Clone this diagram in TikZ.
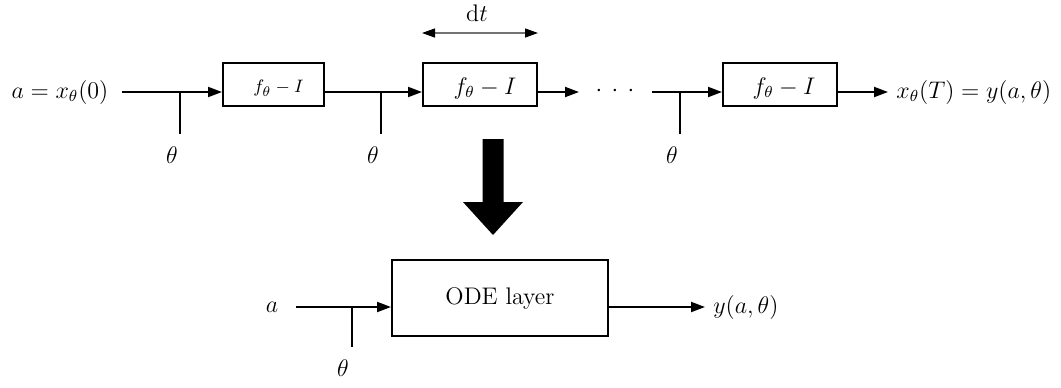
\documentclass[tikz,border=0pt]{standalone}
\usetikzlibrary{arrows.meta}
\begin{document}
\begin{tikzpicture}[x=0.5pt,y=-0.5pt,
  every node/.style={font=\fontsize{12}{14.4}\selectfont, inner sep=4pt},
  wire/.style={line width=1pt},
  arr/.style={wire, -{Triangle[length=7pt,width=5pt]}},
  dtarr/.style={line width=0.65pt, draw=black!55, {Triangle[length=6.5pt,width=4.5pt,color=black]}-{Triangle[length=6.5pt,width=4.5pt,color=black]}},
  fbox/.style={draw, line width=1pt, minimum height=21.5pt, inner sep=0pt},
  smallbox/.style={fbox, minimum width=50.5pt, font=\fontsize{9.4}{11}\selectfont, text height=8.2pt, text depth=0pt},
  bigbox/.style={fbox, minimum width=57pt, text height=9.5pt, text depth=0pt},
  odebox/.style={draw, line width=1pt, minimum width=108pt, minimum height=38pt, inner sep=0pt}
]
\useasboundingbox (0,0) rectangle (1061,387);

% ---------- top chain ----------
\node (in) at (60,92) {$a = x_\theta(0)$};
\coordinate (j1) at (180,92);
\node (th1) at (172,155) {$\theta$};
\node[smallbox] (b1) at (273.5,84.5) {\hspace{5pt}$f_\theta - I$};

\coordinate (j2) at (381,92);
\node (th2) at (373,155) {$\theta$};
\node[bigbox] (b2) at (480,84.5) {\hspace{5pt}$f_\theta - I$};

\coordinate (c2) at (579,92);
\node[anchor=base] (dots) at (615,96) {${\cdot}\kern4.67pt{\cdot}\kern4.67pt{\cdot}$};
\coordinate (c3) at (652,92);
\coordinate (j3) at (680,92);
\node (th3) at (672,155) {$\theta$};
\node[bigbox] (b3) at (780,84.5) {\hspace{4pt}$f_\theta - I$};
\node[anchor=west] (out) at (888,92) {$x_\theta(T) = y(a,\theta)$};

\draw[wire, shorten <=2.5pt] (in.east) -- (j1);
\draw[wire, shorten >=2.3pt] (j1) -- (j1 |- th1.north);
\draw[arr] (j1) -- (j1 -| b1.west);
\draw[wire] (b1.east |- j1) -- (j2);
\draw[wire, shorten >=2.3pt] (j2) -- (j2 |- th2.north);
\draw[arr] (j2) -- (j2 -| b2.west);
\draw[arr] (b2.east |- j2) -- (c2);
\draw[wire] (c3) -- (j3);
\draw[wire, shorten >=2.3pt] (j3) -- (j3 |- th3.north);
\draw[arr] (j3) -- (j3 -| b3.west);
\draw[arr] (b3.east |- j3) -- (out.west);

% dt
\node (dt) at (477,13) {$\mathrm{d}t$};
\draw[dtarr] ([yshift=14.5pt]b2.north west) -- ([yshift=14.5pt]b2.north east);

% ---------- big arrow ----------
\fill (482.5,139) -- (503.5,139) -- (503.5,202) -- (523,202) -- (493,235)
      -- (463,202) -- (482.5,202) -- cycle;

% ---------- bottom ----------
\node (a2) at (272,307) {$a$};
\coordinate (j4) at (352,307);
\node (th4) at (343,368) {$\theta$};
\node[odebox] (ode) at (500,298) {ODE layer};
\node[anchor=west] (yout) at (705,307) {$y(a,\theta)$};

\draw[wire, shorten <=4.5pt] (a2.east) -- (j4);
\draw[wire, shorten >=2.3pt] (j4) -- (j4 |- th4.north);
\draw[arr] (j4) -- (j4 -| ode.west);
\draw[arr] (ode.east |- j4) -- (yout.west);
\end{tikzpicture}
\end{document}
